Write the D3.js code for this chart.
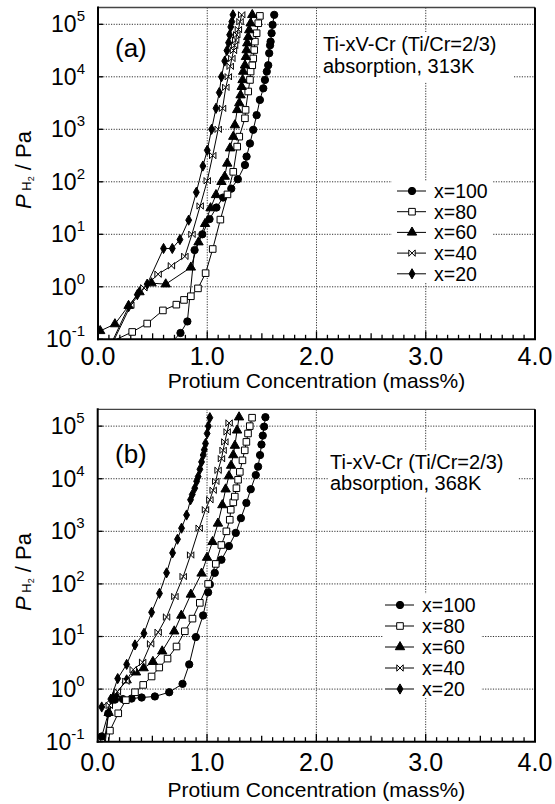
<!DOCTYPE html>
<html>
<head>
<meta charset="utf-8">
<script src="https://cdn.jsdelivr.net/npm/d3@7"></script>
<style>
  body { margin: 0; background: #fff; }
  text { font-family: "Liberation Sans", Arial, Helvetica, sans-serif; fill: #000; }
</style>
</head>
<body>
<svg id="chart" width="555" height="804"></svg>
<script>
// Series names (legend order) and marker kinds
var seriesNames = ["x=100", "x=80", "x=60", "x=40", "x=20"];
var seriesMarks = ["circle", "square", "triangle", "bowtie", "diamond"];

// Tick values
var xTicks = [0, 1, 2, 3, 4];
var yExps = [-1, 0, 1, 2, 3, 4, 5];

// Panel (a), 313K: [concentration mass%, log10(P / Pa)]
var a100 = [[0.70,-1.0],[0.755,-0.88],[0.818,-0.66],[0.884,0.70],[0.955,1.0],[1.021,1.29],[1.084,1.51],[1.145,1.70],[1.22,1.87],[1.28,2.05],[1.345,2.32],[1.36,2.48],[1.391,2.73],[1.421,2.99],[1.452,3.27],[1.482,3.56],[1.513,3.78],[1.528,3.94],[1.545,4.1],[1.558,4.22],[1.567,4.45],[1.575,4.6],[1.58,4.67],[1.589,4.83],[1.598,4.99],[1.613,5.18]];
var a80 = [[0.17,-1.0],[0.313,-0.86],[0.45,-0.70],[0.594,-0.45],[0.717,-0.34],[0.787,-0.25],[0.85,-0.18],[0.915,-0.03],[0.985,0.26],[1.05,0.72],[1.12,1.28],[1.185,1.76],[1.238,2.19],[1.274,2.67],[1.293,2.86],[1.345,3.21],[1.351,3.37],[1.375,3.72],[1.391,3.94],[1.397,4.10],[1.412,4.22],[1.421,4.35],[1.43,4.51],[1.436,4.67],[1.452,4.83],[1.467,5.02],[1.482,5.16]];
var a60 = [[0.02,-0.84],[0.155,-0.71],[0.28,-0.36],[0.38,-0.1],[0.49,0.07],[0.62,0.05],[0.85,0.37],[0.92,0.85],[0.98,1.2],[1.03,1.5],[1.08,1.75],[1.13,2.0],[1.16,2.1],[1.183,2.35],[1.208,2.64],[1.238,2.86],[1.253,3.08],[1.274,3.37],[1.293,3.5],[1.305,3.65],[1.315,3.81],[1.323,3.94],[1.329,4.1],[1.345,4.22],[1.354,4.38],[1.36,4.51],[1.366,4.64],[1.375,4.76],[1.384,4.89],[1.397,5.02],[1.412,5.18]];
var a40 = [[0.15,-1.0],[0.3,-0.35],[0.42,-0.02],[0.55,0.24],[0.672,0.4],[0.795,0.58],[0.86,1.0],[0.935,1.54],[1.0,2.02],[1.05,2.5],[1.1,3.0],[1.14,3.4],[1.17,3.8],[1.193,4.0],[1.21,4.2],[1.225,4.35],[1.24,4.5],[1.25,4.6],[1.26,4.7],[1.27,4.8],[1.285,4.9],[1.3,5.05],[1.315,5.18]];
var a20 = [[0.14,-1.0],[0.28,-0.38],[0.36,-0.15],[0.45,0.05],[0.60,0.73],[0.68,0.73],[0.75,0.9],[0.83,1.27],[0.90,1.8],[0.96,2.3],[1.0,2.6],[1.04,3.0],[1.08,3.4],[1.11,3.7],[1.13,4.0],[1.16,4.3],[1.18,4.5],[1.195,4.65],[1.205,4.8],[1.215,4.95],[1.225,5.05],[1.235,5.18]];

// Panel (b), 368K
var b100 = [[0.02,-1.0],[0.037,-0.9],[0.097,-0.46],[0.158,-0.2],[0.23,-0.19],[0.31,-0.18],[0.402,-0.16],[0.523,-0.14],[0.654,-0.06],[0.776,0.10],[0.837,0.47],[0.898,0.99],[0.964,1.40],[1.01,1.84],[1.026,1.99],[1.071,2.21],[1.132,2.46],[1.2,2.72],[1.263,2.97],[1.31,3.25],[1.36,3.54],[1.4,3.8],[1.446,4.07],[1.467,4.23],[1.485,4.45],[1.498,4.65],[1.51,4.82],[1.522,4.99],[1.534,5.17]];
var b80 = [[0.10,-1.0],[0.112,-0.79],[0.188,-0.46],[0.258,-0.21],[0.341,-0.06],[0.416,0.08],[0.493,0.24],[0.563,0.41],[0.639,0.58],[0.721,0.81],[0.797,1.10],[0.867,1.34],[0.934,1.64],[1.01,2.0],[1.08,2.38],[1.131,2.74],[1.177,3.0],[1.208,3.22],[1.217,3.41],[1.24,3.55],[1.254,3.66],[1.269,3.82],[1.284,3.98],[1.3,4.13],[1.324,4.35],[1.345,4.54],[1.36,4.7],[1.375,4.86],[1.391,5.0],[1.412,5.16]];
var b60 = [[0.06,-1.0],[0.1,-0.45],[0.16,-0.1],[0.265,0.17],[0.35,0.32],[0.42,0.4],[0.505,0.52],[0.59,0.72],[0.70,1.1],[0.765,1.4],[0.852,1.8],[0.95,2.2],[1.0,2.5],[1.05,2.8],[1.1,3.15],[1.14,3.5],[1.17,3.8],[1.2,4.05],[1.22,4.25],[1.24,4.45],[1.255,4.63],[1.275,4.92],[1.293,5.17]];
var b40 = [[0.07,-1.0],[0.106,-0.31],[0.18,-0.05],[0.258,0.15],[0.325,0.37],[0.411,0.51],[0.484,0.86],[0.553,1.08],[0.63,1.37],[0.706,1.76],[0.782,2.14],[0.85,2.55],[0.928,3.06],[0.986,3.41],[1.026,3.6],[1.056,3.78],[1.08,3.95],[1.101,4.16],[1.132,4.38],[1.147,4.54],[1.163,4.7],[1.184,4.89],[1.202,5.06]];
var b20 = [[0.037,-0.34],[0.12,-0.19],[0.183,0.2],[0.265,0.47],[0.341,0.84],[0.423,1.06],[0.493,1.46],[0.565,1.82],[0.63,2.21],[0.685,2.59],[0.73,2.85],[0.767,3.06],[0.813,3.31],[0.849,3.6],[0.865,3.7],[0.888,3.82],[0.905,3.95],[0.919,4.04],[0.935,4.18],[0.95,4.32],[0.965,4.45],[0.975,4.55],[0.986,4.67],[1.001,4.86],[1.012,5.0],[1.026,5.16]];

var svg = d3.select("#chart");

//Panel layout
var panels = [
  { tag: "(a)", temp: "absorption, 313K", series: [a100, a80, a60, a40, a20],
    left: 98, right: 535, top: 7.5, bottom: 339.3,
    note: { x: 323, y1: 51, y2: 73, box: [321, 32, 192, 50] },
    legend: { x: 412, y: 191, dy: 20.7, box: [392, 181, 101, 102] },
    tagY: 57, xLabY: 388, tickLabY: 365, yLabC: 170 },
  { tag: "(b)", temp: "absorption, 368K", series: [b100, b80, b60, b40, b20],
    left: 97.7, right: 535, top: 409.3, bottom: 741.7,
    note: { x: 330, y1: 469, y2: 490, box: [328, 451, 190, 46] },
    legend: { x: 400, y: 605, dy: 21, box: [383, 594, 98, 104] },
    tagY: 463, xLabY: 797, tickLabY: 771, yLabC: 572 }
];

function markerPath(kind) {
  if (kind == "circle") return d3.symbol().type(d3.symbolCircle).size(42)();
  if (kind == "square") return "M-3.3,-3.3H3.3V3.3H-3.3Z";
  if (kind == "triangle") return d3.symbol().type(d3.symbolTriangle).size(38)();
  if (kind == "diamond") return d3.symbol().type(d3.symbolDiamond).size(30)();
  return "M-3.2,-3.2L3.2,3.2L3.2,-3.2L-3.2,3.2Z"; // bowtie
}
function markerFill(kind) {
  return (kind == "square" || kind == "bowtie") ? "#fff" : "#000";
}

panels.forEach(function(p, pi) {
  var x = d3.scaleLinear().domain([0, 4]).range([p.left, p.right]);
  var y = d3.scaleLog().domain([0.1, Math.pow(10, 5.32)]).range([p.bottom, p.top]);
  var g = svg.append("g");

  //Dotted grid
  g.selectAll(".hgrid").data(yExps.slice(1)).enter().append("line")
    .attr("x1", p.left).attr("x2", p.right)
    .attr("y1", function(e) { return y(Math.pow(10, e)); })
    .attr("y2", function(e) { return y(Math.pow(10, e)); })
    .attr("stroke", "#333").attr("stroke-width", 1).attr("stroke-dasharray", "1.2,1.4");
  g.selectAll(".vgrid").data([1, 2, 3]).enter().append("line")
    .attr("x1", function(d) { return x(d); }).attr("x2", function(d) { return x(d); })
    .attr("y1", p.top).attr("y2", p.bottom)
    .attr("stroke", "#333").attr("stroke-width", 1).attr("stroke-dasharray", "1.2,1.4");

  //White boxes behind note and legend
  [p.note.box, p.legend.box].forEach(function(b) {
    g.append("rect").attr("x", b[0]).attr("y", b[1]).attr("width", b[2]).attr("height", b[3]).attr("fill", "#fff");
  });

  //Minor ticks on x axis
  g.selectAll(".xt").data(d3.range(0, 41)).enter().append("line")
    .attr("x1", function(i) { return x(i / 10); }).attr("x2", function(i) { return x(i / 10); })
    .attr("y1", p.bottom)
    .attr("y2", function(i) { return p.bottom - (i % 10 == 0 ? 8 : (i % 5 == 0 ? 6 : 4.5)); })
    .attr("stroke", "#000").attr("stroke-width", 1.3);
  g.selectAll(".yt").data(yExps).enter().append("line")
    .attr("x1", p.left).attr("x2", p.left + 5)
    .attr("y1", function(e) { return y(Math.pow(10, e)); })
    .attr("y2", function(e) { return y(Math.pow(10, e)); })
    .attr("stroke", "#000").attr("stroke-width", 1.3);

  //Frame
  g.append("line").attr("x1", p.left).attr("x2", p.right).attr("y1", p.top).attr("y2", p.top)
    .attr("stroke", "#444").attr("stroke-width", 1.3);
  g.append("line").attr("x1", p.right).attr("x2", p.right).attr("y1", p.top).attr("y2", p.bottom)
    .attr("stroke", "#000").attr("stroke-width", 2);
  g.append("line").attr("x1", p.left).attr("x2", p.left).attr("y1", p.top - 1).attr("y2", p.bottom + 1)
    .attr("stroke", "#000").attr("stroke-width", 2);
  g.append("line").attr("x1", p.left - 1).attr("x2", p.right + 1).attr("y1", p.bottom).attr("y2", p.bottom)
    .attr("stroke", "#000").attr("stroke-width", 2);

  //Tick labels
  g.selectAll(".xl").data(xTicks).enter().append("text")
    .attr("x", function(d) { return x(d); }).attr("y", p.tickLabY)
    .attr("text-anchor", "middle").style("font-size", "25px")
    .text(function(d) { return d3.format(".1f")(d); });
  var yl = g.selectAll(".yl").data(yExps).enter().append("text")
    .attr("x", p.left - 13).attr("y", function(e) { return y(Math.pow(10, e)) + 8; })
    .attr("text-anchor", "end").style("font-size", "23px");
  yl.append("tspan").text("10");
  yl.append("tspan").attr("dy", -11).style("font-size", "15px").text(function(e) { return e; });

  //Axis titles
  g.append("text").attr("x", x(2)).attr("y", p.xLabY).attr("text-anchor", "middle")
    .style("font-size", "21px").text("Protium Concentration (mass%)");
  var yt = g.append("text").attr("transform", "translate(31," + p.yLabC + ") rotate(-90)")
    .attr("text-anchor", "middle").style("font-size", "22px");
  yt.append("tspan").style("font-style", "italic").text("P");
  yt.append("tspan").style("font-size", "13px").text("  H");
  yt.append("tspan").style("font-size", "9px").attr("dy", 3).text("2");
  yt.append("tspan").attr("dy", -3).text(" / Pa");

  //Panel tag and note
  g.append("text").attr("x", 115).attr("y", p.tagY).style("font-size", "26px").text(p.tag);
  g.append("text").attr("x", p.note.x).attr("y", p.note.y1).style("font-size", "20px").text("Ti-xV-Cr (Ti/Cr=2/3)");
  g.append("text").attr("x", p.note.x).attr("y", p.note.y2).style("font-size", "20px").text(p.temp);

  //Clip for data
  svg.append("clipPath").attr("id", "clip" + pi).append("rect")
    .attr("x", p.left).attr("y", p.top).attr("width", p.right - p.left).attr("height", p.bottom - p.top);

  var line = d3.line()
    .x(function(d) { return x(d[0]); })
    .y(function(d) { return y(Math.pow(10, d[1])); });

  var dg = g.append("g").attr("clip-path", "url(#clip" + pi + ")");
  p.series.forEach(function(data, si) {
    dg.append("path").datum(data).attr("d", line)
      .attr("fill", "none").attr("stroke", "#000").attr("stroke-width", 1);
  });
  p.series.forEach(function(data, si) {
    var kind = seriesMarks[si];
    dg.selectAll(".m" + si).data(data.filter(function(d) { return d[1] > -0.99; })).enter().append("path")
      .attr("transform", function(d) { return "translate(" + x(d[0]) + "," + y(Math.pow(10, d[1])) + ")"; })
      .attr("d", markerPath(kind))
      .attr("fill", markerFill(kind)).attr("stroke", "#000").attr("stroke-width", 1);
  });

  //Legend
  seriesNames.forEach(function(name, si) {
    var ly = p.legend.y + si * p.legend.dy;
    g.append("line").attr("x1", p.legend.x - 15).attr("x2", p.legend.x + 14)
      .attr("y1", ly).attr("y2", ly).attr("stroke", "#000").attr("stroke-width", 1);
    g.append("path").attr("transform", "translate(" + p.legend.x + "," + ly + ")")
      .attr("d", markerPath(seriesMarks[si]))
      .attr("fill", markerFill(seriesMarks[si])).attr("stroke", "#000").attr("stroke-width", 1);
    g.append("text").attr("x", p.legend.x + 22).attr("y", ly + 7)
      .style("font-size", "19.5px").text(name);
  });
});
</script>
</body>
</html>
